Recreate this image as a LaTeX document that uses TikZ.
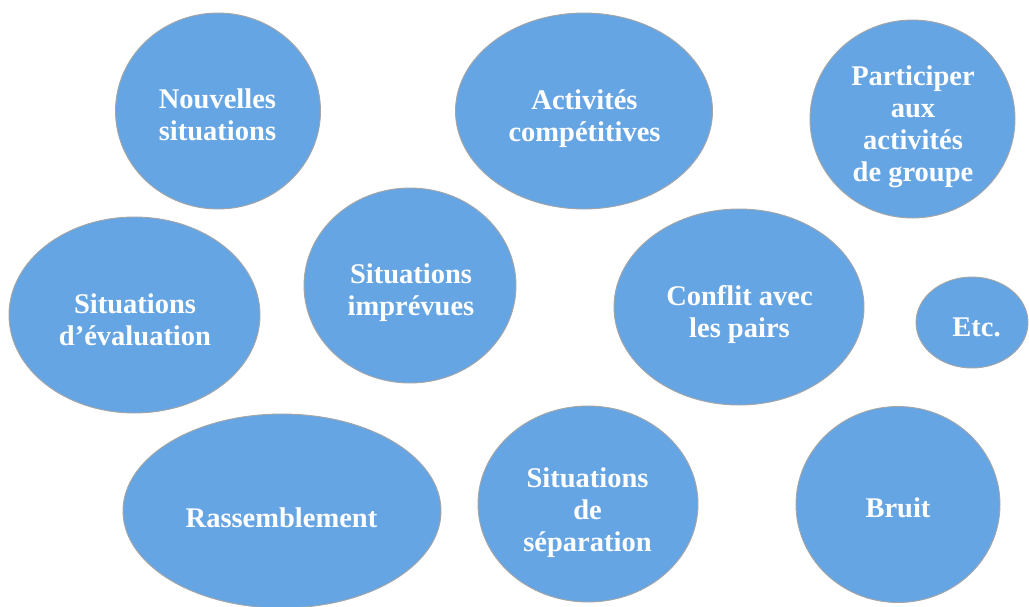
\documentclass[tikz,border=0pt]{standalone}
\usepackage{fontspec}
\setmainfont{Liberation Serif}
\usetikzlibrary{shapes.geometric}
\definecolor{bubblefill}{HTML}{66A5E3}
\definecolor{bubbleedge}{HTML}{A5A5A5}
\begin{document}
\begin{tikzpicture}[x=1pt,y=-1pt,
  bubble/.style={ellipse, draw=bubbleedge, line width=0.9pt, fill=bubblefill, inner sep=0pt},
  caption/.style={text=white, align=center, inner sep=0pt, text height=20pt, text depth=7pt,
    font=\fontsize{28.5}{32}\selectfont\bfseries}]
\useasboundingbox (0,0) rectangle (1029,606);

% bubbles
\node[bubble, minimum width=205pt, minimum height=196pt] (b1) at (218,111) {};
\node[bubble, minimum width=257pt, minimum height=196pt] (b2) at (584,111) {};
\node[bubble, minimum width=205pt, minimum height=198pt] (b3) at (912.5,119) {};
\node[bubble, minimum width=251pt, minimum height=196pt] (b4) at (134.5,315) {};
\node[bubble, minimum width=212pt, minimum height=195pt] (b5) at (410,285.5) {};
\node[bubble, minimum width=250pt, minimum height=196pt] (b6) at (739,307) {};
\node[bubble, minimum width=112pt, minimum height=91pt] (b7) at (972,322.5) {};
\node[bubble, minimum width=318pt, minimum height=194pt] (b8) at (282,511) {};
\node[bubble, minimum width=220pt, minimum height=196pt] (b9) at (588,504) {};
\node[bubble, minimum width=204pt, minimum height=196pt] (b10) at (898,504.5) {};

% captions
\node[caption] (t1) at (217.5,134) {Nouvelles\\situations};
\node[caption] (t2) at (584.5,135) {Activités\\compétitives};
\node[caption] (t3) at (913,175) {Participer\\aux\\activités\\de groupe};
\node[caption] (t4) at (135,339) {Situations\\d’évaluation};
\node[caption] (t5) at (411,309) {Situations\\imprévues};
\node[caption] (t6) at (739.5,331) {Conflit avec\\les pairs};
\node[caption] (t7) at (976.5,330) {Etc.};
\node[caption] (t8) at (281.5,521) {Rassemblement};
\node[caption] (t9) at (587.5,545) {Situations\\de\\séparation};
\node[caption] (t10) at (898,511) {Bruit};
\end{tikzpicture}
\end{document}
